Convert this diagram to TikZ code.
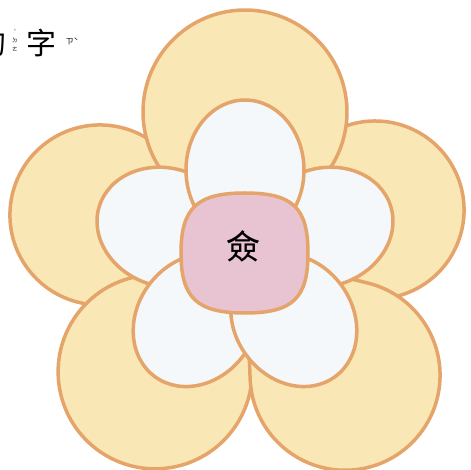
\documentclass[tikz,border=0pt]{standalone}
\usepackage{fontspec}
\newfontfamily\cjk{Noto Sans CJK TC}
\usetikzlibrary{shapes.geometric}
\usepackage{xcolor}
\definecolor{petalyellow}{HTML}{F9E8B6}
\definecolor{petalline}{HTML}{E5A469}
\definecolor{petalwhite}{HTML}{F4F8FA}
\definecolor{centerpink}{HTML}{E8C3D2}

\begin{document}
\begin{tikzpicture}[x=1pt, y=1pt,
    outerpetal/.style={draw=petalline, fill=petalyellow, line width=3.5pt, line join=round},
    innerpetal/.style={draw=petalline, fill=petalwhite, line width=3.5pt, ellipse, inner sep=0pt, minimum width=140, minimum height=118},
    centerbox/.style={draw=petalline, fill=centerpink, line width=3.5pt},
    bigchar/.style={font=\cjk\fontsize{34}{34}\selectfont, inner sep=0pt},
    titlechar/.style={font=\cjk\fontsize{30}{30}\selectfont, inner sep=0pt},
    zhuyin/.style={font=\cjk\fontsize{5.5}{5.5}\selectfont, inner sep=0pt}]
    \useasboundingbox (-245,-217) rectangle (226,253);

    % Title
    \node[titlechar] (de) at (-253,210) {的};
    \node[zhuyin] (dedot) at (-230,222) {˙};
    \node[zhuyin] (ded) at (-230,213) {ㄉ};
    \node[zhuyin] (dee) at (-230,204) {ㄜ};
    \node[titlechar] (zi) at (-203,210) {字};
    \node[zhuyin, font=\cjk\fontsize{8}{8}\selectfont] (zizy) at (-173,212) {ㄗˋ};

    % Outer petals
    \draw[outerpetal, rotate=165.3] (0,0) -- ([shift={(150,0)}]233.1:90) arc[start angle=233.1, end angle=486.9, radius=90] -- cycle;
    \draw[outerpetal, rotate=18.3] (0,0) -- ([shift={(137,0)}]229.5:89) arc[start angle=229.5, end angle=490.5, radius=89] -- cycle;
    \draw[outerpetal, rotate=232.9] (0,0) -- ([shift={(149,0)}]229.5:97) arc[start angle=229.5, end angle=490.5, radius=97] -- cycle;
    \draw[outerpetal, rotate=309.3] (0,0) -- ([shift={(158,0)}]233:95) arc[start angle=233, end angle=487, radius=95] -- cycle;
    \draw[outerpetal, rotate=90] (0,0) -- ([shift={(141,0)}]223.7:102) arc[start angle=223.7, end angle=496.3, radius=102] -- cycle;

    % Inner petals
    \node[innerpetal, rotate=162] (ul) at (162:83) {};
    \node[innerpetal, rotate=18] (ur) at (18:83) {};
    \node[innerpetal, rotate=234] (ll) at (234:83) {};
    \node[innerpetal, rotate=306] (lr) at (306:83) {};
    \node[innerpetal, rotate=90] (top) at (90:83) {};

    % Centre
    \draw[centerbox] (-64,0) .. controls (-64,45) and (-48,60) .. (0,60) .. controls (48,60) and (63,45) .. (63,0) .. controls (63,-45) and (48,-60) .. (0,-60) .. controls (-48,-60) and (-64,-45) .. (-64,0) -- cycle;
    \node[bigchar] (qian) at (-2,7) {僉};
\end{tikzpicture}
\end{document}
